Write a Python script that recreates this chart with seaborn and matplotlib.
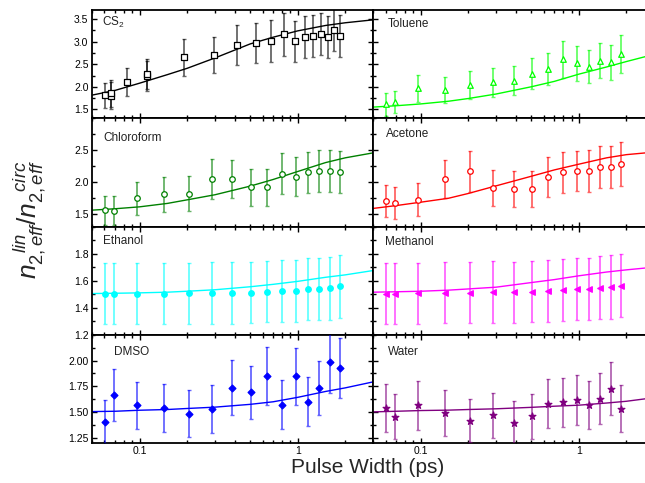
import numpy as np
import pandas as pd
import matplotlib
matplotlib.use("Agg")
import matplotlib.pyplot as plt
from matplotlib.ticker import FixedLocator, AutoMinorLocator, LogLocator, NullFormatter, FixedFormatter
import seaborn as sns

# ---- measured ratios (pulse width in ps) ----
pulse_cs2 = [0.0602, 0.0663, 0.0663, 0.0837, 0.111, 0.111, 0.192, 0.297, 0.416, 0.546,
             0.682, 0.820, 0.962, 1.11, 1.25, 1.40, 1.55, 1.70, 1.85]
cs2_val = [1.815, 1.80, 1.86, 2.107, 2.24, 2.29, 2.65, 2.71, 2.92, 2.97,
           3.02, 3.16, 3.005, 3.11, 3.12, 3.17, 3.11, 3.27, 3.12]
cs2_err = [0.28, 0.30, 0.30, 0.31, 0.33, 0.33, 0.40, 0.40, 0.44, 0.45,
           0.46, 0.47, 0.45, 0.47, 0.47, 0.47, 0.47, 0.48, 0.47]

pulse = [0.0602, 0.0689, 0.0967, 0.142, 0.206, 0.288, 0.387, 0.508, 0.643, 0.796,
         0.971, 1.16, 1.37, 1.59, 1.85]

toluene_val = [1.612, 1.665, 1.964, 1.934, 2.04, 2.10, 2.137, 2.294, 2.40, 2.61,
               2.52, 2.45, 2.58, 2.54, 2.73]
toluene_err = [0.25, 0.25, 0.30, 0.285, 0.31, 0.32, 0.33, 0.35, 0.36, 0.41,
               0.39, 0.37, 0.39, 0.39, 0.42]

chloroform_val = [1.558, 1.552, 1.746, 1.804, 1.819, 2.044, 2.044, 1.919, 1.914, 2.128,
                  2.086, 2.154, 2.17, 2.18, 2.165]
chloroform_err = [0.23, 0.235, 0.26, 0.27, 0.27, 0.31, 0.30, 0.29, 0.29, 0.32,
                  0.31, 0.32, 0.33, 0.33, 0.33]

acetone_val = [1.704, 1.673, 1.725, 2.045, 2.17, 1.903, 1.893, 1.887, 2.076, 2.154,
               2.175, 2.18, 2.233, 2.233, 2.285]
acetone_err = [0.25, 0.25, 0.26, 0.30, 0.32, 0.28, 0.28, 0.28, 0.31, 0.32,
               0.32, 0.33, 0.33, 0.33, 0.34]

ethanol_val = [1.5025, 1.5025, 1.505, 1.505, 1.507, 1.51, 1.507, 1.512, 1.52, 1.525,
               1.527, 1.537, 1.537, 1.544, 1.557]
ethanol_err = [0.226, 0.225, 0.226, 0.226, 0.227, 0.228, 0.228, 0.228, 0.229, 0.23,
               0.229, 0.231, 0.229, 0.231, 0.235]

methanol_val = [1.5025, 1.5025, 1.507, 1.51, 1.512, 1.517, 1.515, 1.52, 1.525, 1.532,
                1.537, 1.542, 1.549, 1.554, 1.564]
methanol_err = [0.225, 0.226, 0.224, 0.226, 0.228, 0.228, 0.226, 0.228, 0.228, 0.229,
                0.229, 0.229, 0.232, 0.235, 0.235]

dmso_val = [1.405, 1.664, 1.564, 1.538, 1.486, 1.531, 1.738, 1.693, 1.848, 1.573,
            1.848, 1.599, 1.732, 1.987, 1.929]
dmso_err = [0.213, 0.25, 0.23, 0.233, 0.228, 0.231, 0.263, 0.257, 0.28, 0.238,
            0.276, 0.238, 0.26, 0.304, 0.288]

water_val = [1.541, 1.454, 1.564, 1.492, 1.418, 1.47, 1.395, 1.46, 1.58, 1.596,
             1.615, 1.57, 1.631, 1.728, 1.531]
water_err = [0.23, 0.217, 0.234, 0.223, 0.21, 0.218, 0.21, 0.217, 0.238, 0.238,
             0.241, 0.234, 0.244, 0.259, 0.228]

# ---- model fits sampled on a common pulse-width grid ----
fit_pulse = [0.05, 0.07, 0.1, 0.15, 0.2, 0.3, 0.5, 0.7, 1.0, 1.5, 2.0, 3.0]
cs2_fit = [1.815, 1.92, 2.08, 2.27, 2.41, 2.64, 2.95, 3.10, 3.24, 3.36, 3.42, 3.485]
toluene_fit = [1.55, 1.58, 1.62, 1.68, 1.74, 1.84, 2.00, 2.12, 2.28, 2.44, 2.56, 2.72]
chloroform_fit = [1.558, 1.58, 1.61, 1.664, 1.72, 1.80, 1.935, 2.04, 2.165, 2.305, 2.38, 2.458]
acetone_fit = [1.585, 1.63, 1.683, 1.745, 1.82, 1.94, 2.09, 2.19, 2.28, 2.38, 2.43, 2.47]
ethanol_fit = [1.505, 1.507, 1.51, 1.515, 1.522, 1.533, 1.555, 1.573, 1.595, 1.625, 1.643, 1.675]
methanol_fit = [1.515, 1.518, 1.522, 1.53, 1.539, 1.552, 1.586, 1.608, 1.636, 1.664, 1.68, 1.70]
dmso_fit = [1.505, 1.508, 1.518, 1.525, 1.535, 1.548, 1.575, 1.60, 1.643, 1.70, 1.735, 1.793]
water_fit = [1.502, 1.508, 1.515, 1.519, 1.525, 1.532, 1.546, 1.557, 1.567, 1.588, 1.605, 1.64]

# ---- panel setup: (label, x, y, err, fit, color, marker, open?) ----
panels = [
    [("CS$_2$", pulse_cs2, cs2_val, cs2_err, cs2_fit, "#000000", "s", True),
     ("Toluene", pulse, toluene_val, toluene_err, toluene_fit, "#00ff00", "^", True)],
    [("Chloroform", pulse, chloroform_val, chloroform_err, chloroform_fit, "#008000", "o", True),
     ("Acetone", pulse, acetone_val, acetone_err, acetone_fit, "#ff0000", "o", True)],
    [("Ethanol", pulse, ethanol_val, ethanol_err, ethanol_fit, "#00ffff", "o", False),
     ("Methanol", pulse, methanol_val, methanol_err, methanol_fit, "#ff00ff", "<", False)],
    [("DMSO", pulse, dmso_val, dmso_err, dmso_fit, "#0000ff", "D", False),
     ("Water", pulse, water_val, water_err, water_fit, "#800080", "*", False)],
]

row_ylim = [(1.3, 3.7), (1.3, 3.0), (1.2, 2.0), (1.2, 2.25)]
row_ticks = [[1.5, 2.0, 2.5, 3.0, 3.5],
             [1.5, 2.0, 2.5],
             [1.2, 1.4, 1.6, 1.8],
             [1.25, 1.50, 1.75, 2.00]]
row_fmt = ["{:.1f}", "{:.1f}", "{:.1f}", "{:.2f}"]

label_pos = [[(0.036, 0.89), (0.053, 0.87)],
             [(0.040, 0.82), (0.046, 0.853)],
             [(0.040, 0.87), (0.043, 0.857)],
             [(0.078, 0.845), (0.053, 0.845)]]

sns.set_style("ticks")
plt.rcParams['font.family'] = ['Liberation Sans', 'DejaVu Sans']
plt.rcParams['mathtext.fontset'] = 'custom'
plt.rcParams['mathtext.rm'] = 'Liberation Sans'
plt.rcParams['mathtext.it'] = 'Liberation Sans:italic'
plt.rcParams['mathtext.bf'] = 'Liberation Sans:bold'

fig, axes = plt.subplots(4, 2, figsize=(6.45, 4.83), dpi=100, sharex=True)
fig.subplots_adjust(left=0.1426, right=1.0143, top=0.979, bottom=0.0828,
                    hspace=0, wspace=0)

for r in range(4):
    for c in range(2):
        ax = axes[r, c]
        name, xs, ys, es, fit, col, mk, hollow = panels[r][c]
        df = pd.DataFrame({"pulse": xs, "ratio": ys, "err": es})
        fit_df = pd.DataFrame({"pulse": fit_pulse, "ratio": fit})

        ax.set_xscale("log")
        sns.lineplot(data=fit_df, x="pulse", y="ratio", ax=ax, color=col,
                     linewidth=1.0, sort=True, estimator=None, zorder=2)
        ax.errorbar(df["pulse"], df["ratio"], yerr=df["err"], fmt="none",
                    ecolor=col, elinewidth=1.3, capsize=1.6, capthick=1.0,
                    alpha=0.6, zorder=3)
        size = 26 if mk == "*" else (12 if mk == "D" else 16)
        sns.scatterplot(data=df, x="pulse", y="ratio", ax=ax, marker=mk, s=size,
                        facecolor="white" if hollow else col, edgecolor=col,
                        linewidth=0.9, zorder=4, legend=False)

        ax.set_xlim(0.05, 3.0)
        ax.set_ylim(*row_ylim[r])
        ax.yaxis.set_major_locator(FixedLocator(row_ticks[r]))
        ax.yaxis.set_minor_locator(AutoMinorLocator(2))
        ax.xaxis.set_major_locator(LogLocator(base=10, numticks=10))
        ax.xaxis.set_minor_locator(LogLocator(base=10, subs=np.arange(2, 10), numticks=20))
        ax.xaxis.set_minor_formatter(NullFormatter())
        ax.set_xlabel("")
        ax.set_ylabel("")

        if c == 0:
            ax.set_yticklabels([row_fmt[r].format(t) for t in row_ticks[r]])
        else:
            ax.set_yticklabels([])
        if r == 3:
            ax.xaxis.set_major_locator(FixedLocator([0.1, 1.0]))
            ax.xaxis.set_major_formatter(FixedFormatter(["0.1", "1"]))

        ax.tick_params(which="both", direction="in", top=True, right=True,
                       width=1.0, labelsize=7.5, colors="black", pad=2.5)
        ax.tick_params(which="major", length=3.5)
        ax.tick_params(which="minor", length=2.0)
        for sp in ax.spines.values():
            sp.set_linewidth(1.3)
            sp.set_color("black")

        lx, ly = label_pos[r][c]
        ax.text(lx, ly, name, transform=ax.transAxes, fontsize=8.5,
                va="center", ha="left", color="#222222")

fig.text(0.57, 0.032, "Pulse Width (ps)", ha="center", va="center", fontsize=15)
fig.text(0.047, 0.545, r"$n_{2,eff}^{\ \ lin}/n_{2,eff}^{\ \ circ}$", rotation=90,
         ha="center", va="center", fontsize=19)

fig.savefig("out.png", dpi=100)
